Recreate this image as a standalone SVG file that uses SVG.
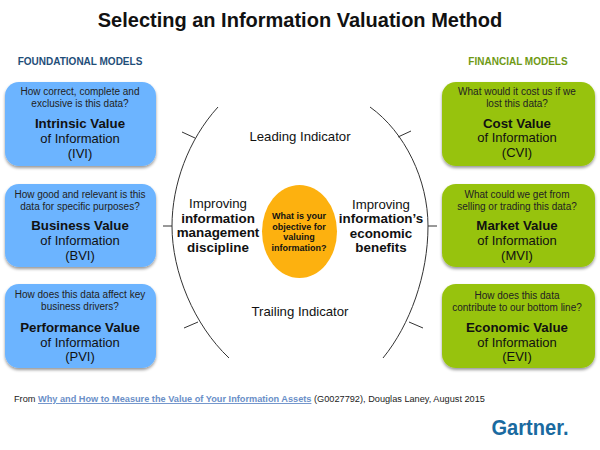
<svg xmlns="http://www.w3.org/2000/svg" width="600" height="450" viewBox="0 0 600 450">
<style>
text{font-family:"Liberation Sans",Arial,sans-serif;text-anchor:middle;fill:#111}
.q{font-size:10px;fill:#222}
.t{font-size:13.3px;font-weight:bold}
.s{font-size:13px}
.blue{fill:#6cb4ff}
.green{fill:#97c30a}
.c{fill:none;stroke:#333;stroke-width:1}
.h{font-size:10px;font-weight:bold}
.m{font-size:13.2px}
.b{font-size:13.4px;font-weight:bold}
.e{font-size:9px;font-weight:bold}
</style>
<defs><filter id="sh" x="-10%" y="-10%" width="120%" height="125%"><feDropShadow dx="0" dy="2" stdDeviation="1.5" flood-color="#000" flood-opacity="0.4"/></filter></defs>
<rect width="600" height="450" fill="#fff"/>
<text x="300" y="27" font-size="20" font-weight="bold" fill="#000">Selecting an Information Valuation Method</text>
<text x="80" y="65" class="h" style="fill:#1f4e79">FOUNDATIONAL MODELS</text>
<text x="518" y="65" class="h" style="fill:#6f9a14">FINANCIAL MODELS</text>
<g id="connectors">
<path class="c" d="M218 107C188 140 172 185 172 226C172 272 194 325 229 358"/>
<path class="c" d="M370 107C405 132 428 180 428 226C428 275 410 325 383 358"/>
<path class="c" d="M182 132L195 138M163 226H172M184 328L198 322M411 131L398 137M428 226H437M423 328L409 322"/>
</g>
<g id="ivi"><rect class="blue" x="5" y="82" width="151" height="84" rx="14" filter="url(#sh)"/>
<text class="q" x="80" y="95">How correct, complete and</text><text class="q" x="80" y="107">exclusive is this data?</text>
<text class="t" x="80" y="128">Intrinsic Value</text><text class="s" x="80" y="143">of Information</text><text class="s" x="80" y="158">(IVI)</text></g>
<g id="bvi"><rect class="blue" x="5" y="184" width="151" height="83" rx="14" filter="url(#sh)"/>
<text class="q" x="80" y="198">How good and relevant is this</text><text class="q" x="80" y="210">data for specific purposes?</text>
<text class="t" x="80" y="230">Business Value</text><text class="s" x="80" y="245">of Information</text><text class="s" x="80" y="260">(BVI)</text></g>
<g id="pvi"><rect class="blue" x="5" y="284" width="151" height="84" rx="14" filter="url(#sh)"/>
<text class="q" x="80" y="298">How does this data affect key</text><text class="q" x="80" y="310">business drivers?</text>
<text class="t" x="80" y="332">Performance Value</text><text class="s" x="80" y="347">of Information</text><text class="s" x="80" y="361">(PVI)</text></g>
<g id="cvi"><rect class="green" x="442" y="82" width="153" height="84" rx="14" filter="url(#sh)"/>
<text class="q" x="517" y="95">What would it cost us if we</text><text class="q" x="517" y="107">lost this data?</text>
<text class="t" x="517" y="128">Cost Value</text><text class="s" x="517" y="142">of Information</text><text class="s" x="517" y="157">(CVI)</text></g>
<g id="mvi"><rect class="green" x="442" y="184" width="153" height="83" rx="14" filter="url(#sh)"/>
<text class="q" x="517" y="198">What could we get from</text><text class="q" x="517" y="210">selling or trading this data?</text>
<text class="t" x="517" y="230">Market Value</text><text class="s" x="517" y="245">of Information</text><text class="s" x="517" y="260">(MVI)</text></g>
<g id="evi"><rect class="green" x="442" y="284" width="153" height="84" rx="14" filter="url(#sh)"/>
<text class="q" x="517" y="299">How does this data</text><text class="q" x="517" y="311">contribute to our bottom line?</text>
<text class="t" x="517" y="332">Economic Value</text><text class="s" x="517" y="347">of Information</text><text class="s" x="517" y="361">(EVI)</text></g>
<g id="center"><ellipse cx="299.500" cy="231.500" rx="37.500" ry="46.500" fill="#fdb10f"/>
<text class="e" x="299" y="219">What is your</text><text class="e" x="299" y="230">objective for</text><text class="e" x="299" y="240">valuing</text><text class="e" x="299" y="251">information?</text></g>
<g id="leading"><text class="m" x="300" y="141">Leading Indicator</text></g>
<g id="trailing"><text class="m" x="300" y="316">Trailing Indicator</text></g>
<g id="left-label"><text class="m" x="218" y="208">Improving</text><text class="b" x="218" y="223">information</text><text class="b" x="218" y="237">management</text><text class="b" x="218" y="252">discipline</text></g>
<g id="right-label"><text class="m" x="381" y="209">Improving</text><text class="b" x="381" y="223">information’s</text><text class="b" x="381" y="238">economic</text><text class="b" x="381" y="252">benefits</text></g>
<text x="14" y="402" font-size="9.200" style="text-anchor:start;fill:#222">From <tspan fill="#6a8fc8" font-weight="bold" text-decoration="underline">Why and How to Measure the Value of Your Information Assets</tspan> (G0027792), Douglas Laney, August 2015</text>
<text x="530" y="435" font-size="22" font-weight="bold" textLength="77" lengthAdjust="spacingAndGlyphs" style="fill:#1a6aa0">Gartner.</text>
</svg>
